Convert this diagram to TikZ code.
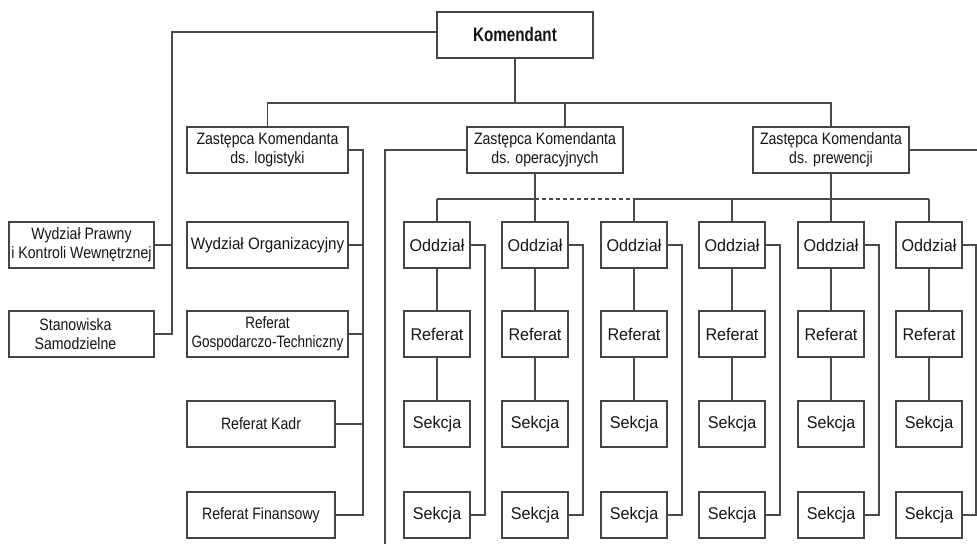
\documentclass[tikz,border=0pt]{standalone}
\usepackage{fontspec}
\setmainfont{Liberation Sans}
\newfontfamily\fkom[FakeStretch=0.78]{Liberation Sans}
\newfontfamily\fmid[FakeStretch=0.855]{Liberation Sans}
\newfontfamily\fwide[FakeStretch=0.92]{Liberation Sans}
\newfontfamily\fnarrow[FakeStretch=0.82]{Liberation Sans}
\newfontfamily\fsmall[FakeStretch=0.95]{Liberation Sans}
\definecolor{boxc}{HTML}{454545}
\definecolor{linec}{HTML}{4A4A4A}
\definecolor{txtc}{HTML}{151515}
\begin{document}
\begin{tikzpicture}[x=1pt,y=-1pt,
  basebox/.style={draw=boxc, line width=1.3pt, fill=white, inner sep=0pt, align=center, text=txtc, minimum height=46pt},
  midbox/.style={basebox, font=\fmid\fontsize{16.5}{19}\selectfont},
  smallbox/.style={basebox, minimum width=66pt, font=\fsmall\fontsize{17}{19}\selectfont},
  conn/.style={draw=linec, line width=1.2pt},
  dashconn/.style={conn, dash pattern=on 4pt off 3pt}]
\useasboundingbox (0,0) rectangle (977,544);

% top level
\node[basebox, minimum width=156pt, font=\fkom\bfseries\fontsize{19.5}{22}\selectfont] (kom) at (515,35) {Komendant};
\node[midbox, minimum width=161pt] (zl) at (267.5,150) {Zastępca Komendanta\\ds. logistyki};
\node[midbox, minimum width=156pt] (zo) at (545,150) {Zastępca Komendanta\\ds. operacyjnych};
\node[midbox, minimum width=156pt] (zp) at (831,150) {Zastępca Komendanta\\ds. prewencji};

% left side
\node[midbox, minimum width=145pt] (wp) at (81.5,245) {Wydział Prawny\\i Kontroli Wewnętrznej};
\node[midbox, minimum width=145pt] (ss) at (81.5,334) {Stanowiska\hspace*{12pt}\\Samodzielne\hspace*{12pt}};

% logistics column
\node[midbox, minimum width=161pt, font=\fwide\fontsize{16.5}{19}\selectfont] (wo) at (267.5,245) {Wydział Organizacyjny};
\node[midbox, minimum width=161pt, font=\fnarrow\fontsize{16.5}{19}\selectfont] (rg) at (267.5,334) {Referat\\Gospodarczo-Techniczny};
\node[midbox, minimum width=148pt] (rk) at (261,424) {Referat Kadr};
\node[midbox, minimum width=148pt] (rf) at (261,515) {Referat Finansowy};

% operational columns
\foreach \i/\cx in {1/437,2/535,3/634,4/732,5/831,6/929} {
  \node[smallbox] (o\i) at (\cx,245) {Oddział};
  \node[smallbox] (r\i) at (\cx,334) {Referat};
  \node[smallbox] (s\i) at (\cx,424) {Sekcja};
  \node[smallbox] (t\i) at (\cx,515) {Sekcja};
}

% coordinates for free ends / buses
\coordinate (kbus) at (515,103);
\coordinate (lbus) at (172,334);
\coordinate (lgbus) at (363,515);
\coordinate (opbus) at (385,544);
\coordinate (prend) at (977,150);
\coordinate (obus) at (0,199);

% Komendant connections
\draw[conn] ([yshift=3pt]kom.west) -| (lbus) -- (ss.east);
\draw[conn] (wp.east) -- (wp.east -| lbus);
\draw[conn] (kom.south) -- (kom.south |- kbus);
\draw[conn] (zl.north) |- (zp.north |- kbus) -- (zp.north);
\draw[conn] ([xshift=20pt]zo.north) -- ([xshift=20pt]zo.north |- kbus);

% logistics bus
\draw[conn] (zl.east) -| (lgbus) -- (rf.east);
\foreach \n in {wo,rg,rk} \draw[conn] (\n.east) -- (\n.east -| lgbus);

% operational left line and prevention right line
\draw[conn] (zo.west) -| (opbus);
\draw[conn] (zp.east) -- (prend);

% bus to Oddział
\draw[conn] (zo.south -| o2.north) -- (o2.north);
\draw[conn] (zp.south) -- (o5.north);
\draw[conn] (o1.north |- obus) -- (o2.north |- obus);
\draw[dashconn] (o2.north |- obus) -- (o3.north |- obus);
\draw[conn] (o3.north |- obus) -- (o6.north |- obus);
\foreach \i in {1,3,4,6} \draw[conn] (o\i.north |- obus) -- (o\i.north);

% column internal connectors
\foreach \i/\bx in {1/485,2/583,3/682,4/780,5/879,6/976} {
  \coordinate (cb\i) at (\bx,515);
  \draw[conn] (o\i) -- (r\i);
  \draw[conn] (r\i) -- (s\i);
  \draw[conn] (o\i.east) -| (cb\i) -- (t\i.east);
}
\end{tikzpicture}
\end{document}
